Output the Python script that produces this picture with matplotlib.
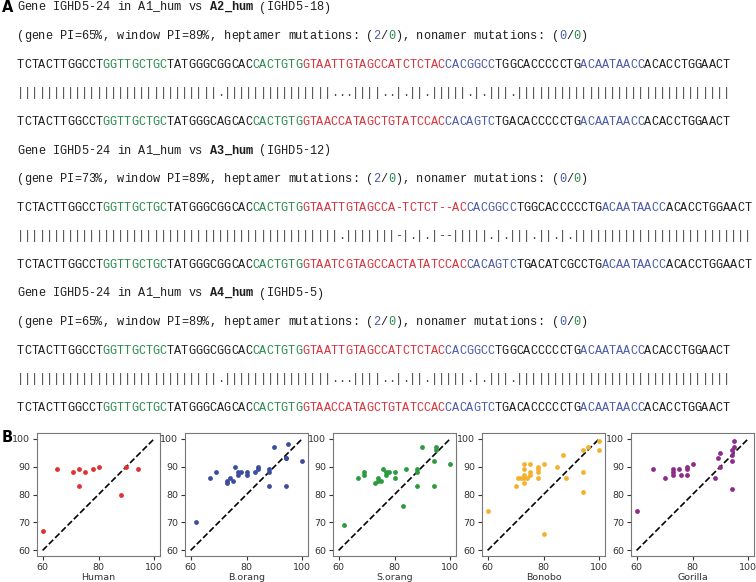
import matplotlib
matplotlib.use("Agg")
from matplotlib import pyplot as plt
import numpy as np

# ---- panel A data ----
ref_name = "IGHD5-24"
hits = ["A2_hum", "A3_hum", "A4_hum"]
hit_genes = ["IGHD5-18", "IGHD5-12", "IGHD5-5"]
gene_pi = [65, 73, 65]
window_pi = [89, 89, 89]
hept_mut = [(2, 0), (2, 0), (2, 0)]
non_mut = [(0, 0), (0, 0), (0, 0)]

ref_seqs = [
    ["TCTACTTGGCCT", "GGTTGCTGC", "TATGGGCGGCAC", "CACTGTG", "GTAATTGTAGCCATCTCTAC",
     "CACGGCC", "TGGCACCCCCTG", "ACAATAACC", "ACACCTGGAACT"],
    ["TCTACTTGGCCT", "GGTTGCTGC", "TATGGGCGGCAC", "CACTGTG", "GTAATTGTAGCCA-TCTCT--AC",
     "CACGGCC", "TGGCACCCCCTG", "ACAATAACC", "ACACCTGGAACT"],
    ["TCTACTTGGCCT", "GGTTGCTGC", "TATGGGCGGCAC", "CACTGTG", "GTAATTGTAGCCATCTCTAC",
     "CACGGCC", "TGGCACCCCCTG", "ACAATAACC", "ACACCTGGAACT"],
]
hit_seqs = [
    ["TCTACTTGGCCT", "GGTTGCTGC", "TATGGGCAGCAC", "CACTGTG", "GTAACCATAGCTGTATCCAC",
     "CACAGTC", "TGACACCCCCTG", "ACAATAACC", "ACACCTGGAACT"],
    ["TCTACTTGGCCT", "GGTTGCTGC", "TATGGGCGGCAC", "CACTGTG", "GTAATCGTAGCCACTATATCCAC",
     "CACAGTC", "TGACATCGCCTG", "ACAATAACC", "ACACCTGGAACT"],
    ["TCTACTTGGCCT", "GGTTGCTGC", "TATGGGCAGCAC", "CACTGTG", "GTAACCATAGCTGTATCCAC",
     "CACAGTC", "TGACACCCCCTG", "ACAATAACC", "ACACCTGGAACT"],
]

# ---- panel B data ----
species = ["Human", "B.orang", "S.orang", "Bonobo", "Gorilla"]
human_x = [60, 65, 71, 73, 73, 75, 78, 80, 88, 90, 94]
human_y = [67, 89, 88, 89, 83, 88, 89, 90, 80, 90, 89]
borang_x = [62, 67, 69, 73, 73, 74, 75, 76, 77, 77, 78, 80, 80, 83, 84, 84,
            88, 88, 88, 90, 94, 94, 94, 95, 100]
borang_y = [70, 86, 88, 85, 84, 86, 85, 90, 87, 88, 88, 88, 87, 88, 90, 89,
            89, 88, 83, 97, 93, 93, 83, 98, 92]
sorang_x = [62, 67, 69, 69, 73, 74, 74, 75, 76, 77, 77, 78, 80, 80, 83, 84,
            88, 88, 88, 90, 94, 94, 95, 95, 100]
sorang_y = [69, 86, 88, 87, 84, 86, 85, 85, 89, 88, 87, 88, 88, 86, 76, 89,
            89, 88, 83, 97, 92, 83, 97, 96, 91]
bonobo_x = [60, 70, 71, 72, 73, 73, 73, 73, 73, 74, 75, 75, 75, 78, 78, 78, 78,
            80, 80, 85, 87, 88, 94, 94, 94, 96, 100, 100]
bonobo_y = [74, 83, 86, 86, 86, 84, 89, 91, 87, 86, 87, 88, 91, 90, 89, 88, 86,
            91, 66, 90, 94, 86, 96, 88, 81, 97, 99, 96]
gorilla_x = [60, 66, 70, 73, 73, 73, 75, 76, 78, 78, 78, 80, 88, 89, 90, 90,
             94, 94, 94, 94, 95, 95]
gorilla_y = [74, 89, 86, 89, 88, 87, 89, 87, 90, 89, 87, 91, 86, 93, 90, 95,
             96, 94, 92, 82, 97, 99]
xs = [human_x, borang_x, sorang_x, bonobo_x, gorilla_x]
ys = [human_y, borang_y, sorang_y, bonobo_y, gorilla_y]
dot_colors = ["#e0302f", "#3d4d9e", "#2e9a40", "#f5b12e", "#8e2c8c"]

# ---- figure ----
W, H = 756, 582
fig = plt.figure(figsize=(W / 100, H / 100), dpi=100)

mono = "Liberation Mono"
fs = 8.6
cw = 7.13      # px per character, as in the reference
x0 = 17
row_h = 28.6
y_first = 7.5

BLACK = "#1e1e1e"
GREEN = "#2a8a4e"
RED = "#d8323c"
BLUE = "#4a5aa8"
seg_colors = [BLACK, GREEN, BLACK, GREEN, RED, BLUE, BLACK, BLUE, BLACK]


def put_pieces(row, pieces):
    # pieces: list of (text, color, weight); every character on a fixed grid
    y = 1 - (y_first + row * row_h) / H
    n = 0
    for txt, col, wt in pieces:
        for ch in txt:
            if ch != " ":
                fig.text((x0 + (n + 0.5) * cw) / W, y, ch, family=mono, fontsize=fs,
                         color=col, weight=wt, va="center", ha="center")
            n += 1


def match_line(a, b):
    out = ""
    for p, q in zip(a, b):
        if p == "-" or q == "-":
            out += "-"
        elif p == q:
            out += "|"
        else:
            out += "."
    return out


for i in range(3):
    r = i * 5
    put_pieces(r, [("Gene %s in A1_hum vs " % ref_name, BLACK, "normal"),
                   (hits[i], BLACK, "bold"),
                   (" (%s)" % hit_genes[i], BLACK, "normal")])
    put_pieces(r + 1, [("(gene PI=%d%%, window PI=%d%%, heptamer mutations: ("
                        % (gene_pi[i], window_pi[i]), BLACK, "normal"),
                       (str(hept_mut[i][0]), BLUE, "normal"), ("/", BLACK, "normal"),
                       (str(hept_mut[i][1]), GREEN, "normal"),
                       ("), nonamer mutations: (", BLACK, "normal"),
                       (str(non_mut[i][0]), BLUE, "normal"), ("/", BLACK, "normal"),
                       (str(non_mut[i][1]), GREEN, "normal"), (")", BLACK, "normal")])
    put_pieces(r + 2, [(s, c, "normal") for s, c in zip(ref_seqs[i], seg_colors)])
    put_pieces(r + 3, [(match_line("".join(ref_seqs[i]), "".join(hit_seqs[i])),
                        "#444444", "normal")])
    put_pieces(r + 4, [(s, c, "normal") for s, c in zip(hit_seqs[i], seg_colors)])

fig.text(2 / W, 1 - 8 / H, "A", fontsize=10.5, weight="bold", va="center", ha="left")
fig.text(2 / W, 1 - 437 / H, "B", fontsize=10.5, weight="bold", va="center", ha="left")

lefts = [37, 185, 333, 482, 631]
for k in range(5):
    ax = fig.add_axes([lefts[k] / W, 1 - 556 / H, 123 / W, 123 / H])
    ax.scatter(xs[k], ys[k], s=12, color=dot_colors[k], zorder=3, linewidths=0)
    ax.plot([60, 100], [60, 100], "k--", lw=1.2)
    ax.set_xlim(58, 102)
    ax.set_ylim(58, 102)
    ax.set_xticks([60, 80, 100])
    ax.set_yticks([60, 70, 80, 90, 100])
    ax.tick_params(labelsize=6.8, colors="#333333", length=3, width=0.8, pad=2)
    ax.set_xlabel(species[k], fontsize=6.8, color="#333333", labelpad=1)
    for sp in ax.spines.values():
        sp.set_color("#777777")

fig.savefig("out.png", dpi=100)
